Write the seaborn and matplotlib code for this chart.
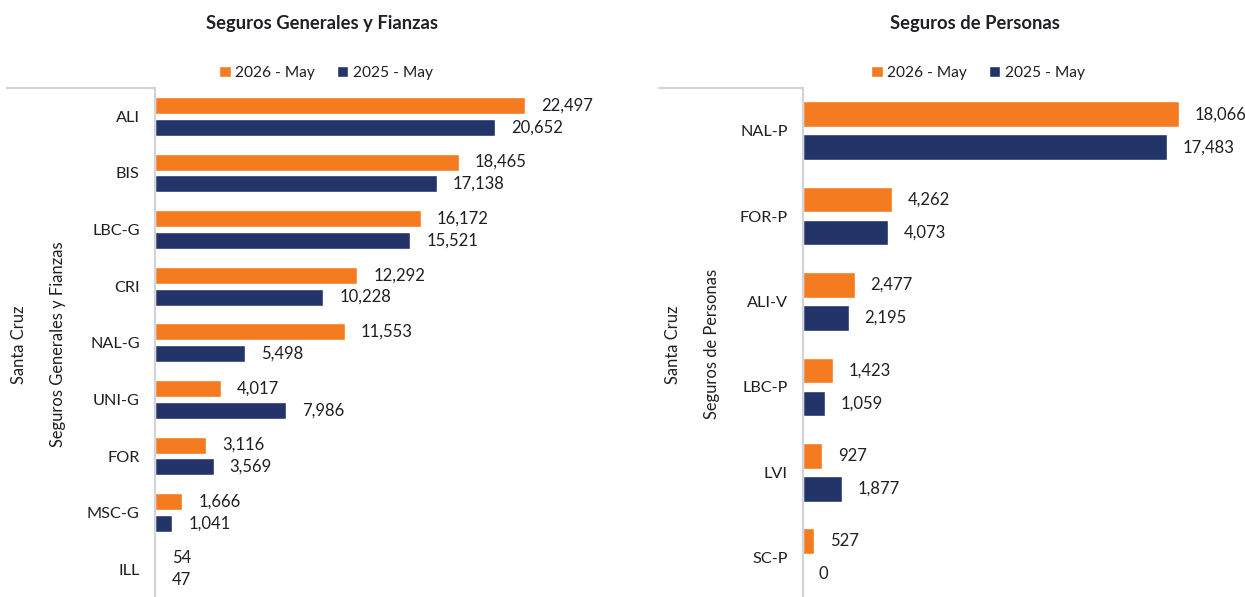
import matplotlib
matplotlib.use("Agg")
import matplotlib.pyplot as plt
from matplotlib.lines import Line2D
import seaborn as sns
import pandas as pd

# ---------------- data ----------------
periods = ["2026 - May", "2025 - May"]
colors = ["#F47B20", "#233468"]

gen_title = "Seguros Generales y Fianzas"
gen_cats = ["ALI", "BIS", "LBC-G", "CRI", "NAL-G", "UNI-G", "FOR", "MSC-G", "ILL"]
gen_2026 = [22497, 18465, 16172, 12292, 11553, 4017, 3116, 1666, 54]
gen_2025 = [20652, 17138, 15521, 10228, 5498, 7986, 3569, 1041, 47]

per_title = "Seguros de Personas"
per_cats = ["NAL-P", "FOR-P", "ALI-V", "LBC-P", "LVI", "SC-P"]
per_2026 = [18066, 4262, 2477, 1423, 927, 527]
per_2025 = [17483, 4073, 2195, 1059, 1877, 0]

region = "Santa Cruz"

# ---------------- style ----------------
sns.set_theme(style="white")
plt.rcParams["font.family"] = ["Lato", "DejaVu Sans"]
TXT = "#1F1F24"
GRID = "#D3D3DB"

W, H = 1245, 597
fig = plt.figure(figsize=(W / 100, H / 100), dpi=100)


def px_box(x0, y0, x1, y1):
    return [x0 / W, 1 - y1 / H, (x1 - x0) / W, (y1 - y0) / H]


def panel(rect, cats, v26, v25, xmax, title, subtitle, title_cx, legend_cx,
          lab1_x, lab2_x, line_x0, ax_x0, ymax):
    ax = fig.add_axes(px_box(*rect))
    df = pd.DataFrame({
        "cat": cats * 2,
        "value": v26 + v25,
        "period": [periods[0]] * len(cats) + [periods[1]] * len(cats),
    })
    sns.barplot(data=df, y="cat", x="value", hue="period", hue_order=periods,
                order=cats, palette=colors, orient="h", width=0.77, gap=0.22,
                saturation=1, ax=ax, legend=True)
    ax.set_xlim(0, xmax)
    ax.set_ylim(ymax, -0.5)
    ax.set_xlabel("")
    ax.set_ylabel("")
    ax.set_xticks([])
    for s in ["top", "right", "bottom"]:
        ax.spines[s].set_visible(False)
    ax.spines["left"].set_color(GRID)
    ax.spines["left"].set_linewidth(1.6)
    ax.tick_params(axis="y", length=0, pad=11, labelsize=11.7, labelcolor=TXT)
    for cont in ax.containers:
        ax.bar_label(cont, labels=[f"{v:,.0f}" for v in cont.datavalues],
                     padding=11.5, fontsize=12, color=TXT)
    sns.move_legend(ax, "center", bbox_to_anchor=(legend_cx / W, 1 - 73 / H),
                    bbox_transform=fig.transFigure, ncol=2, title=None,
                    frameon=False, fontsize=11.2, handlelength=0.75,
                    handleheight=0.75, handletextpad=0.3, columnspacing=1.4,
                    labelcolor=TXT)
    fig.text(title_cx / W, 1 - 23 / H, title, ha="center", va="center",
             fontsize=13.2, fontweight="bold", color=TXT)
    fig.text(lab1_x / W, 1 - 345 / H, region, rotation=90, ha="center",
             va="center", fontsize=11.9, color=TXT)
    fig.text(lab2_x / W, 1 - 344 / H, subtitle, rotation=90, ha="center",
             va="center", fontsize=11.9, color=TXT)
    fig.add_artist(Line2D([line_x0 / W, ax_x0 / W], [1 - 88 / H, 1 - 88 / H],
                          transform=fig.transFigure, color=GRID, lw=1.6))
    return ax


panel((155, 88, 620, 597), gen_cats, gen_2026, gen_2025, 465 / 0.01645,
      gen_title, gen_title, 322, 326, 19, 58, 7, 155, 8.49)
panel((803, 88, 1230, 597), per_cats, per_2026, per_2025, 427 / 0.02081,
      per_title, per_title, 975, 978, 673, 712, 659, 803, -0.5 + 509 / 85.4)

fig.savefig("out.png", dpi=100)
